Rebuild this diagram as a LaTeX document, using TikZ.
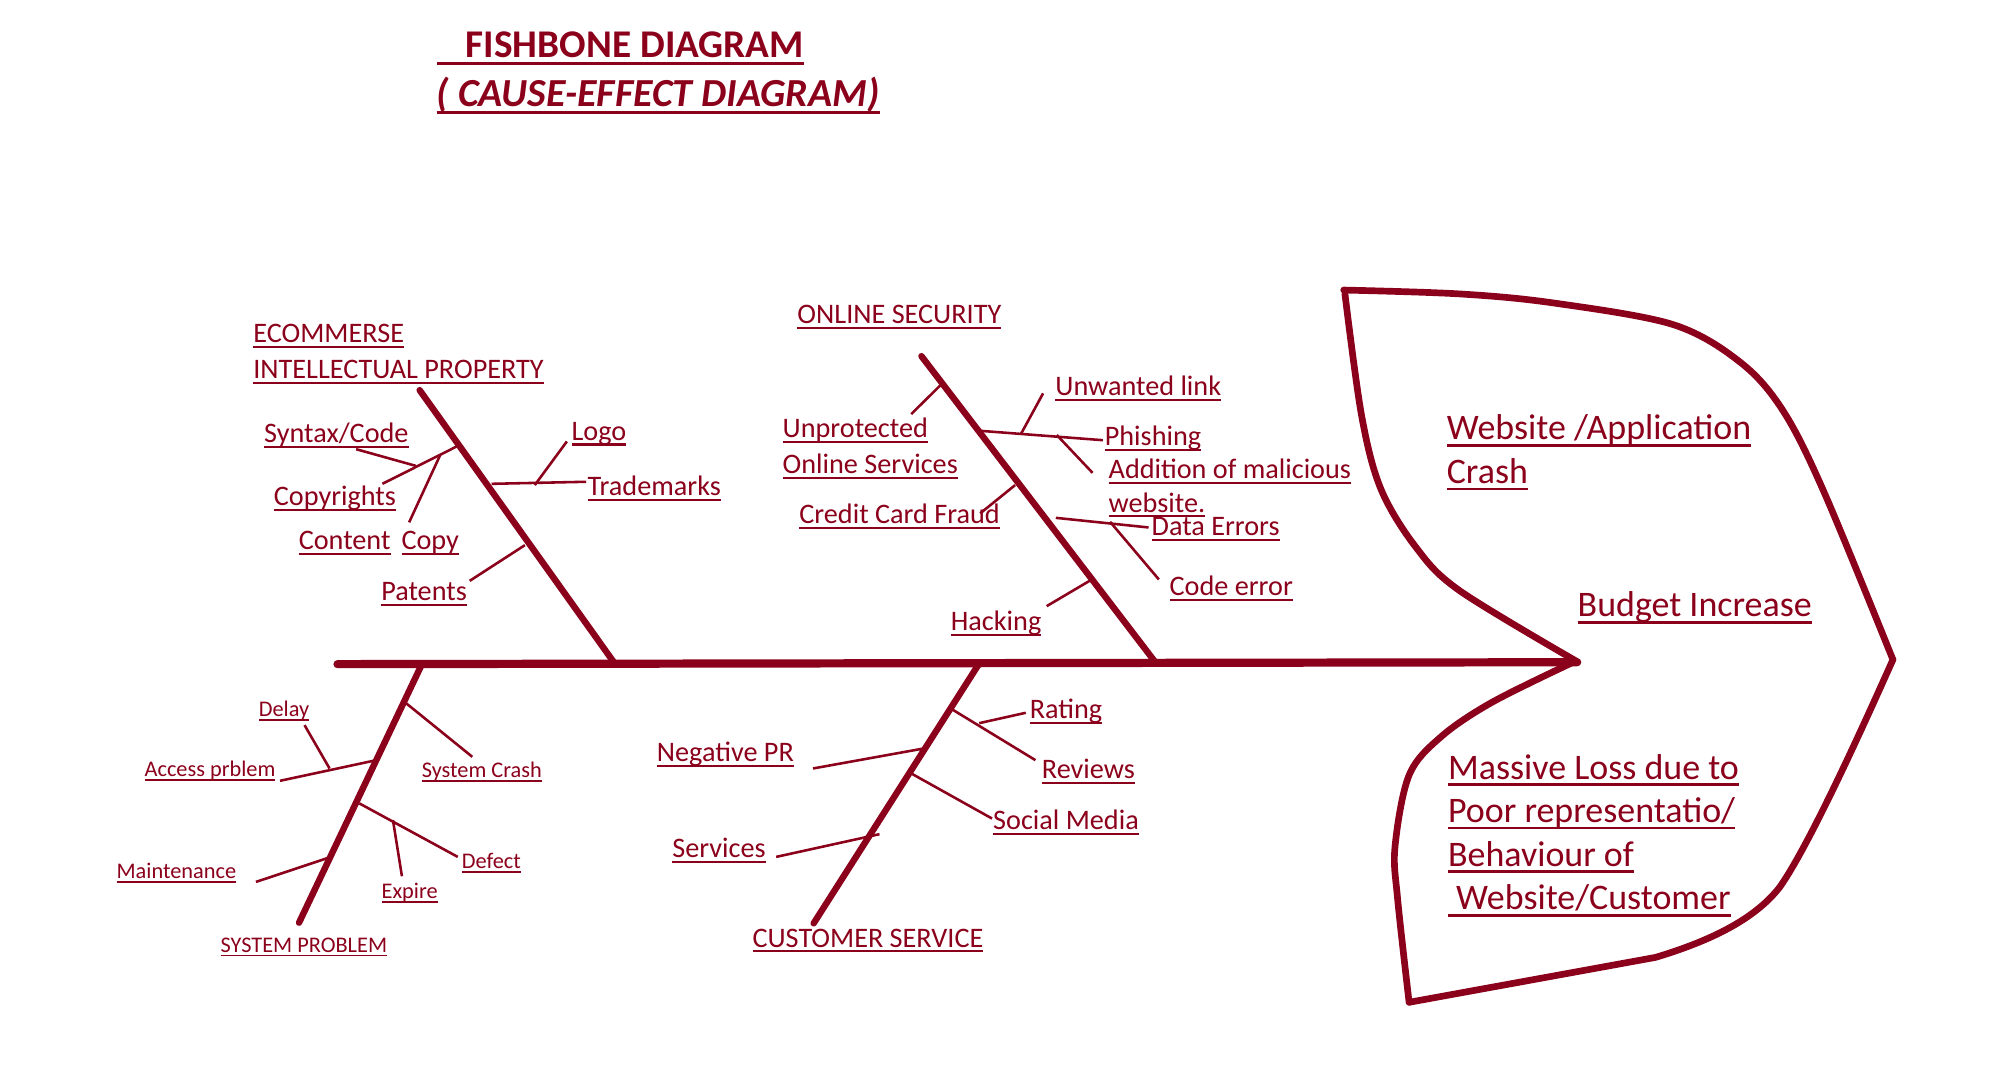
\documentclass[tikz,border=0pt]{standalone}
\usepackage{fontspec}
\setmainfont{Carlito}
\definecolor{bonered}{RGB}{139,0,26}
\newcommand{\fishul}[1]{\setbox0\hbox{#1}\rlap{\rule[-0.19em]{\wd0}{0.075em}}\box0}
\tikzset{
  spine/.style={line width=3.2pt, line cap=round},
  bone/.style={line width=2.5pt, line cap=round},
  twig/.style={line width=1pt},
  outline/.style={line width=2.6pt, line join=round, line cap=round},
  lbl/.style={anchor=base west, inner sep=0pt, font=\fontsize{11}{13}\selectfont},
  smalllbl/.style={lbl, font=\fontsize{8.7}{10}\selectfont},
  biglbl/.style={lbl, font=\fontsize{14}{17}\selectfont},
}
\begin{document}
\begin{tikzpicture}[x=0.5pt, y=-0.5pt, color=bonered]
\useasboundingbox (0,0) rectangle (1560,843);

% title
\node[lbl, font=\fontsize{15.3}{18}\selectfont\bfseries] (title) at (340,44.7) {\fishul{\hspace{0.74em}FISHBONE DIAGRAM}};
\node[lbl, font=\fontsize{15.5}{18}\selectfont\bfseries\itshape] (subtitle) at (340,83) {\fishul{( CAUSE-EFFECT DIAGRAM)}};

% spine and bones
\coordinate (tail) at (263,517.5);
\coordinate (head) at (1229,516);
\coordinate (ipTop) at (327,304);
\coordinate (ipEnd) at (479,517);
\coordinate (osTop) at (718,277.5);
\coordinate (osEnd) at (901,517);
\coordinate (spTop) at (329,517);
\coordinate (spEnd) at (233,719);
\coordinate (csTop) at (763,517);
\coordinate (csEnd) at (634,719.5);

\draw[spine] (tail) -- (head);
\draw[bone] (ipTop) -- (ipEnd);
\draw[bone] (osTop) -- (osEnd);
\draw[bone] (spTop) -- (spEnd);
\draw[bone] (csTop) -- (csEnd);

% head
\draw[outline] plot[smooth, tension=0.55] coordinates {(1047,226) (1137,229) (1210,236) (1304,253) (1357,283) (1390,321) (1422,385) (1475,514)};
\draw[outline] (1475,514) .. controls (1450,570) and (1410,658) .. (1387,691)
  .. controls (1370,713) and (1340,731) .. (1290,746) -- (1098,781);
\draw[outline] plot[smooth, tension=0.55] coordinates {(1098,781) (1089,700) (1087,660) (1098,604) (1123,574) (1163,547) (1228,515)};
\draw[outline] plot[smooth, tension=0.55] coordinates {(1228,515) (1137,460) (1103,426) (1076,381) (1061,324) (1048,229)};

% twigs
\coordinate (synA) at (277.5,350); \coordinate (synB) at (324,363);
\coordinate (cpyA) at (355.6,348); \coordinate (cpyB) at (298,377);
\coordinate (ccA) at (343,354.6); \coordinate (ccB) at (318.8,407);
\coordinate (tmA) at (383,377); \coordinate (tmB) at (456.8,375.4);
\coordinate (lgA) at (441.7,344); \coordinate (lgB) at (416.7,378);
\coordinate (ptA) at (409,424.8); \coordinate (ptB) at (366,452.6);
\coordinate (upA) at (733,300); \coordinate (upB) at (710,322.7);
\coordinate (phA) at (764,335.7); \coordinate (phB) at (859.4,343);
\coordinate (ulA) at (812.8,306.5); \coordinate (ulB) at (795.8,337.7);
\coordinate (amA) at (823.5,339); \coordinate (amB) at (851.3,368.4);
\coordinate (cfA) at (791,378); \coordinate (cfB) at (763.8,400);
\coordinate (deA) at (822.7,403.5); \coordinate (deB) at (895,411);
\coordinate (ceA) at (865,406.6); \coordinate (ceB) at (903,451.5);
\coordinate (hkA) at (849,452.6); \coordinate (hkB) at (815.6,472.3);
\coordinate (scA) at (316,547.6); \coordinate (scB) at (368,589.7);
\coordinate (apA) at (291,592.8); \coordinate (apB) at (218.2,608.4);
\coordinate (dlA) at (237.3,565); \coordinate (dlB) at (256.8,598.8);
\coordinate (dfA) at (280,626); \coordinate (dfB) at (356.7,667.7);
\coordinate (exA) at (306.2,639); \coordinate (exB) at (313.2,682.8);
\coordinate (mtA) at (256.5,668.2); \coordinate (mtB) at (199.4,687.2);
\coordinate (rvA) at (742,552.8); \coordinate (rvB) at (806.8,592.3);
\coordinate (rtA) at (763,563.5); \coordinate (rtB) at (799.3,555.4);
\coordinate (npA) at (719.9,583.2); \coordinate (npB) at (633.5,598.8);
\coordinate (smA) at (711,603.2); \coordinate (smB) at (773,637.8);
\coordinate (svA) at (685.3,650); \coordinate (svB) at (604.8,667.7);

\foreach \t in {syn,cpy,cc,tm,lg,pt,up,ph,ul,am,cf,de,ce,hk,sc,ap,dl,df,ex,mt,rv,rt,np,sm,sv}{
\draw[twig] (\t A) -- (\t B);
}

% ecommerse intellectual property
\node[lbl] (ecom) at (197,267) {\fishul{ECOMMERSE}};
\node[lbl] (ipr) at (197,295) {\fishul{INTELLECTUAL PROPERTY}};
\node[lbl] (syntax) at (205.5,345) {\fishul{Syntax/Code}};
\node[lbl] (copyr) at (213,394) {\fishul{Copyrights}};
\node[lbl] (content) at (232.4,428) {\fishul{Content}};
\node[lbl] (copy) at (312.5,428) {\fishul{Copy}};
\node[lbl] (patents) at (296.7,468) {\fishul{Patents}};
\node[lbl] (logo) at (445,343) {\fishul{Logo}};
\node[lbl] (tmarks) at (457.5,386) {\fishul{Trademarks}};

% online security
\node[lbl] (osec) at (621,252) {\fishul{ONLINE SECURITY}};
\node[lbl] (unprot) at (609.5,341) {\fishul{Unprotected}};
\node[lbl] (onserv) at (609.5,369) {\fishul{Online Services}};
\node[lbl] (ccfraud) at (622.5,408) {\fishul{Credit Card Fraud}};
\node[lbl] (unlink) at (822,308) {\fishul{Unwanted link}};
\node[lbl] (phish) at (860.5,347) {\fishul{Phishing}};
\node[lbl] (addmal) at (863.5,373) {\fishul{Addition of malicious}};
\node[lbl] (website) at (863.5,399) {\fishul{website.}};
\node[lbl] (dataerr) at (897,417.5) {\fishul{Data Errors}};
\node[lbl] (codeerr) at (911,464) {\fishul{Code error}};
\node[lbl] (hack) at (740.5,491.5) {\fishul{Hacking}};

% system problem
\node[smalllbl] (delay) at (201.3,558.5) {\fishul{Delay}};
\node[smalllbl] (access) at (112.3,605) {\fishul{Access prblem}};
\node[smalllbl] (syscrash) at (328.3,606) {\fishul{System Crash}};
\node[smalllbl] (maint) at (90.5,684.6) {\fishul{Maintenance}};
\node[smalllbl] (defect) at (359.5,677) {\fishul{Defect}};
\node[smalllbl] (expire) at (297,700) {\fishul{Expire}};
\node[smalllbl] (sysprob) at (171.5,742) {\fishul{SYSTEM PROBLEM}};

% customer service
\node[lbl] (negpr) at (511.5,593.6) {\fishul{Negative PR}};
\node[lbl] (rating) at (802,560) {\fishul{Rating}};
\node[lbl] (reviews) at (811.5,606.6) {\fishul{Reviews}};
\node[lbl] (social) at (773.5,646.4) {\fishul{Social Media}};
\node[lbl] (services) at (523.5,668.2) {\fishul{Services}};
\node[lbl] (custserv) at (586,738) {\fishul{CUSTOMER SERVICE}};

% effects
\node[biglbl] (crash1) at (1127,342.7) {\fishul{Website /Application}};
\node[biglbl] (crash2) at (1127,376.7) {\fishul{Crash}};
\node[biglbl] (budget) at (1229,480.6) {\fishul{Budget Increase}};
\node[biglbl] (loss1) at (1128,607) {\fishul{Massive Loss due to}};
\node[biglbl] (loss2) at (1128,641) {\fishul{Poor representatio/}};
\node[biglbl] (loss3) at (1128,675) {\fishul{Behaviour of}};
\node[biglbl] (loss4) at (1128,709) {\fishul{\ Website/Customer}};

\end{tikzpicture}
\end{document}
